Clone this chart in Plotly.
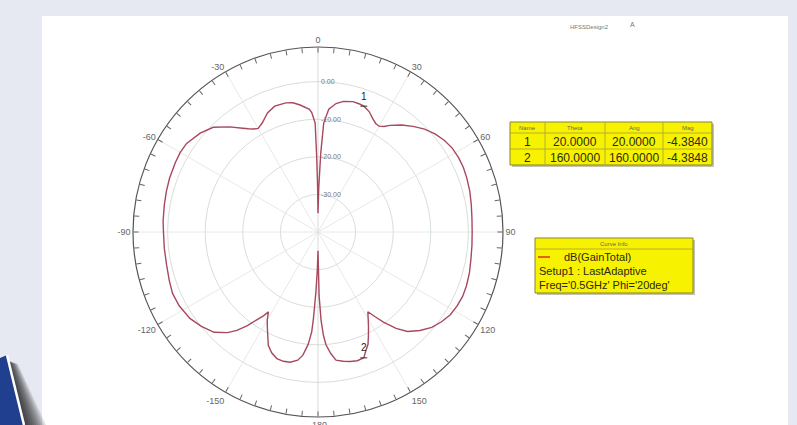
import plotly.graph_objects as go

# ---- far-field cut: dB(GainTotal), Phi = 20 deg, theta swept around the circle ----
theta_deg = [
    -180, -179, -178, -177, -176.4, -175, -173, -171, -168, -165, -162, -159,
    -156.3, -154, -152, -150, -148.2, -147, -145, -143, -140.5, -138, -134,
    -129, -124, -118, -113, -108, -102, -96, -90, -86, -80, -75, -70, -64,
    -60, -56, -50, -45, -40, -36, -34, -32, -30, -27, -23, -19, -14, -11,
    -8, -4, -3, -1.5, -1, -0.5,
    0, 1, 2, 3, 5, 8, 11, 15, 18, 20, 23, 26, 28, 30, 32, 34, 38, 42, 46,
    50, 54, 58, 62, 66, 70, 75, 80, 85, 90, 95, 100, 105, 110, 114, 118,
    122, 126, 130, 134, 138, 141, 144, 146, 148, 150, 152, 154, 156, 158,
    160, 163, 166, 169, 172, 174, 176, 177, 178, 179, 180,
]
gain_db = [
    -35.0, -30.0, -24.0, -17.0, -13.4, -10.0, -7.0, -5.5, -4.6, -4.4, -4.6, -5.6,
    -7.1, -9.5, -11.3, -13.0, -15.0, -13.5, -11.4, -8.8, -6.1, -4.0, -1.6,
    -0.1, 1.1, 1.8, 2.0, 1.6, 1.2, 1.1, 1.1, 1.3, 1.5, 1.75, 2.0, 2.2,
    2.3, 2.15, 0.9, -0.6, -3.5, -5.9, -6.9, -7.7, -8.2, -7.4, -5.6, -4.6, -4.6, -5.0,
    -5.9, -7.3, -8.2, -11.0, -20.0, -28.0,
    -35.0, -28.0, -19.0, -11.0, -7.2, -5.5, -4.6, -4.1, -4.2, -4.384, -5.2, -6.6, -7.3, -7.5, -6.9, -5.8, -3.9, -2.2, -0.6,
    0.6, 1.5, 2.1, 2.3, 2.3, 2.1, 1.8, 1.4, 1.1, 1.0, 1.1, 1.3, 1.7, 2.0, 2.1, 1.9,
    1.5, 0.6, -0.5, -2.3, -4.4, -7.0, -10.4, -12.8, -15.0, -13.3, -11.4, -9.4, -7.3, -6.0,
    -4.3848, -4.2, -4.5, -5.0, -5.6, -7.5, -10.0, -12.5, -16.5, -23.0, -35.0,
]

# ---- marker table ----
marker_names = ["1", "2"]
marker_theta = [20.0, 160.0]
marker_ang = [20.0, 160.0]
marker_mag = [-4.3840, -4.3848]
table_headers = ["Name", "Theta", "Ang", "Mag"]

# ---- axes ----
radial_ticks = [-30, -20, -10, 0]
radial_range = [-40, 9.2]
angle_labels = {0: "0", 30: "30", 60: "60", 90: "90", 120: "120", 150: "150",
                180: "-180", 210: "-150", 240: "-120", 270: "-90", 300: "-60", 330: "-30"}

# ---- curve info ----
curve_name = "dB(GainTotal)"
setup_text = "Setup1 : LastAdaptive"
freq_text = "Freq='0.5GHz' Phi='20deg'"
design_name = "HFSSDesign2"

W, H = 797, 425
FONT = "Liberation Sans"
CURVE = "#a8485e"


def fx(x):
    return x / W


def fy(y):
    return 1 - y / H


fig = go.Figure()

# spokes every 30 degrees
for a in range(0, 360, 30):
    fig.add_trace(go.Scatterpolar(
        r=[radial_range[0], radial_range[1]], theta=[a, a], mode="lines",
        line=dict(color="#cfcfcf" if a % 180 == 0 else "#e2e2e2", width=0.8),
        hoverinfo="skip", showlegend=False))

fig.add_trace(go.Scatterpolar(
    r=gain_db, theta=theta_deg, mode="lines",
    line=dict(color=CURVE, width=1.4), name=curve_name, showlegend=False))

fig.add_trace(go.Scatterpolar(
    r=marker_mag, theta=marker_theta, mode="markers+text",
    text=marker_names, textposition="top center",
    textfont=dict(family=FONT, size=10, color="#222"),
    marker=dict(symbol="line-ew", size=5, color="#333", line=dict(width=1, color="#333")),
    hoverinfo="skip", showlegend=False))

tickvals = list(range(0, 360, 5))
ticktext = [angle_labels.get(v, "") for v in tickvals]

cx, cy, R = 318, 232, 185
fig.update_layout(
    width=W, height=H, margin=dict(l=0, r=0, t=0, b=0),
    paper_bgcolor="#e6e9f2", showlegend=False,
    polar=dict(
        domain=dict(x=[fx(cx - R), fx(cx + R)], y=[fy(cy + R), fy(cy - R)]),
        bgcolor="white",
        angularaxis=dict(
            rotation=90, direction="clockwise", tickmode="array",
            tickvals=tickvals, ticktext=ticktext, ticks="inside", ticklen=5,
            tickcolor="#666", linecolor="#555", linewidth=1.2, showgrid=False,
            tickfont=dict(family=FONT, size=9, color="#666")),
        radialaxis=dict(
            range=radial_range, angle=90, tickmode="array",
            tickvals=radial_ticks, showticklabels=False,
            showline=False, showgrid=True, gridcolor="#d6dfdc", gridwidth=0.8,
            ticks=""),
    ),
)

shapes = []
annotations = []


def label(text, x, y, size, color, xanchor="center"):
    annotations.append(dict(text=text, x=fx(x), y=fy(y), xref="paper", yref="paper",
                            xanchor=xanchor, yanchor="middle", showarrow=False,
                            font=dict(family=FONT, size=size, color=color)))


# radial level labels, placed on each grid circle along the upward axis
for v in radial_ticks:
    rad_px = (v - radial_range[0]) / (radial_range[1] - radial_range[0]) * R
    label(f"{v:.2f}", cx + 1, cy - rad_px, 7, "#777", "left")

# white panel
shapes.append(dict(type="rect", xref="paper", yref="paper", layer="below",
                   x0=fx(42), x1=fx(788), y0=0, y1=fy(16),
                   fillcolor="white", line=dict(width=0)))

# blue corner block with soft shadow
for w in range(22, 0, -2):
    shapes.append(dict(type="path", xref="paper", yref="paper",
                       path=f"M {fx(9)} {fy(361)} L {fx(9 + w * 0.4)} {fy(364)} "
                            f"L {fx(24 + w)} {fy(425)} L {fx(24)} {fy(425)} Z",
                       fillcolor="rgba(20,20,20,0.12)", line=dict(width=0)))
shapes.append(dict(type="path", xref="paper", yref="paper",
                   path=f"M {fx(0)} {fy(358)} L {fx(7)} {fy(355)} L {fx(24)} {fy(425)} L {fx(0)} {fy(425)} Z",
                   fillcolor="#213f8f", line=dict(width=0)))
shapes.append(dict(type="line", xref="paper", yref="paper",
                   x0=fx(7), y0=fy(355), x1=fx(24), y1=fy(425),
                   line=dict(color="white", width=2.5)))

# marker table
col_x = [510, 545, 605, 663, 712]
row_y = [122, 133, 149, 165]
shapes.append(dict(type="rect", xref="paper", yref="paper",
                   x0=fx(col_x[0] + 2), x1=fx(col_x[-1] + 2), y0=fy(row_y[-1] + 2), y1=fy(row_y[0] + 2),
                   fillcolor="rgba(120,120,90,0.45)", line=dict(width=0)))
shapes.append(dict(type="rect", xref="paper", yref="paper",
                   x0=fx(col_x[0]), x1=fx(col_x[-1]), y0=fy(row_y[-1]), y1=fy(row_y[0]),
                   fillcolor="#f7f200", line=dict(color="#8a8430", width=1)))
for x in col_x[1:-1]:
    shapes.append(dict(type="line", xref="paper", yref="paper",
                       x0=fx(x), x1=fx(x), y0=fy(row_y[-1]), y1=fy(row_y[0]),
                       line=dict(color="#a8a040", width=0.8)))
for y in row_y[1:-1]:
    shapes.append(dict(type="line", xref="paper", yref="paper",
                       x0=fx(col_x[0]), x1=fx(col_x[-1]), y0=fy(y), y1=fy(y),
                       line=dict(color="#a8a040", width=0.8)))
for j, h in enumerate(table_headers):
    label(h, (col_x[j] + col_x[j + 1]) / 2, (row_y[0] + row_y[1]) / 2, 6, "#666")
for i in range(len(marker_names)):
    cells = [marker_names[i], f"{marker_theta[i]:.4f}", f"{marker_ang[i]:.4f}", f"{marker_mag[i]:.4f}"]
    for j, c in enumerate(cells):
        label(c, (col_x[j] + col_x[j + 1]) / 2, (row_y[i + 1] + row_y[i + 2]) / 2 + 0.5, 12, "#2a2a10")

# curve info box
bx0, bx1, by0, by1 = 535, 693, 238, 293
shapes.append(dict(type="rect", xref="paper", yref="paper",
                   x0=fx(bx0 + 2), x1=fx(bx1 + 2), y0=fy(by1 + 2), y1=fy(by0 + 2),
                   fillcolor="rgba(120,120,90,0.45)", line=dict(width=0)))
shapes.append(dict(type="rect", xref="paper", yref="paper",
                   x0=fx(bx0), x1=fx(bx1), y0=fy(by1), y1=fy(by0),
                   fillcolor="#f7f200", line=dict(color="#8a8430", width=1)))
shapes.append(dict(type="line", xref="paper", yref="paper",
                   x0=fx(bx0), x1=fx(bx1), y0=fy(249), y1=fy(249),
                   line=dict(color="#a8a040", width=0.8)))
shapes.append(dict(type="line", xref="paper", yref="paper",
                   x0=fx(538), x1=fx(550), y0=fy(257), y1=fy(257),
                   line=dict(color="#e03020", width=1.5)))
label("Curve Info", (bx0 + bx1) / 2, 243.5, 6, "#666")
label(curve_name, 562, 257, 11, "#2a2a10", "left")
label(setup_text, 537, 271, 11, "#2a2a10", "left")
label(freq_text, 537, 285, 11, "#2a2a10", "left")

# design name
label(design_name, 568, 27, 6, "#777", "left")
label("A", 632, 24, 7, "#777")

fig.update_layout(shapes=shapes, annotations=annotations)
fig.write_html("out.html")
